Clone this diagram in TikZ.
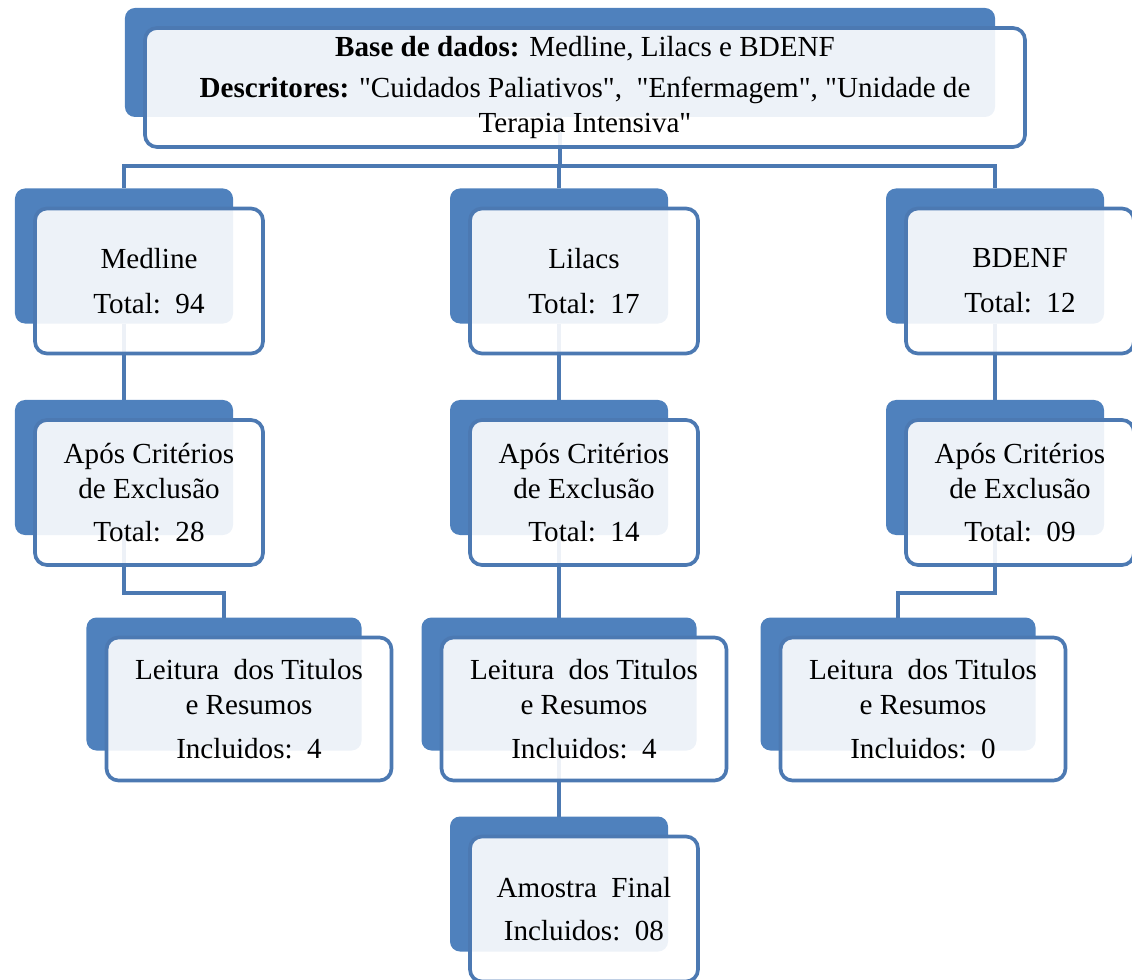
\documentclass[tikz,border=0pt]{standalone}
\usepackage{fontspec}
\setmainfont{Liberation Serif}
\usetikzlibrary{positioning,backgrounds}
\definecolor{boxblue}{HTML}{4F81BD}
\definecolor{lineblue}{HTML}{4C79B2}

\begin{document}
\begin{tikzpicture}[x=0.25mm,y=-0.25mm,
  backbox/.style={fill=boxblue,rounded corners=2.5mm,outer sep=0pt,inner sep=0pt},
  frontbox/.style={draw=lineblue,line width=2.6pt,fill=white,fill opacity=0.9,
    text opacity=1,rounded corners=3mm,outer sep=0pt,inner sep=0pt,align=center,
    font=\fontsize{20.7}{25}\selectfont},
  link/.style={draw=lineblue,line width=2.8pt},
  stdback/.style={minimum width=54.5mm,minimum height=33.75mm},
  stdfront/.style={minimum width=57mm,minimum height=36.25mm},
  wideback/.style={minimum width=68.75mm,minimum height=33.25mm},
  widefront/.style={minimum width=71.25mm,minimum height=35.75mm}
]
\useasboundingbox (0,0) rectangle (1132,980);

% top box
\node[backbox,minimum width=217.5mm,minimum height=27.25mm] (topB) at (560,62.5) {};
\node[frontbox,minimum width=220mm,minimum height=29.75mm,below right=5mm and 5mm of topB.north west] (topF)
  {\textbf{Base de dados:} Medline, Lilacs e BDENF\\[4pt]
   \textbf{Descritores:} \textquotedbl Cuidados Paliativos\textquotedbl,\ \ \textquotedbl Enfermagem\textquotedbl, \textquotedbl Unidade de\\
   Terapia Intensiva\textquotedbl};

% first row
\node[backbox,stdback] (medB1) at (124,256) {};
\node[frontbox,stdfront,below right=5mm and 5mm of medB1.north west] (medF1) {Medline\\[7pt]Total:\ \ 94};
\node[backbox,stdback] (lilB1) at (559,256) {};
\node[frontbox,stdfront,below right=5mm and 5mm of lilB1.north west] (lilF1) {Lilacs\\[7pt]Total:\ \ 17};
\node[backbox,stdback] (bdeB1) at (995,256) {};
\node[frontbox,stdfront,below right=5mm and 5mm of bdeB1.north west] (bdeF1) {BDENF\\[7pt]Total:\ \ 12};

% second row
\node[backbox,stdback] (medB2) at (124,467.5) {};
\node[frontbox,stdfront,below right=5mm and 5mm of medB2.north west] (medF2)
  {Após Critérios\\de Exclusão\\[6pt]Total:\ \ 28};
\node[backbox,stdback] (lilB2) at (559,467.5) {};
\node[frontbox,stdfront,below right=5mm and 5mm of lilB2.north west] (lilF2)
  {Após Critérios\\de Exclusão\\[6pt]Total:\ \ 14};
\node[backbox,stdback] (bdeB2) at (995,467.5) {};
\node[frontbox,stdfront,below right=5mm and 5mm of bdeB2.north west] (bdeF2)
  {Após Critérios\\de Exclusão\\[6pt]Total:\ \ 09};

% third row
\node[backbox,wideback] (medB3) at (224,684) {};
\node[frontbox,widefront,below right=5mm and 5mm of medB3.north west] (medF3)
  {Leitura\ \ dos Titulos\\e Resumos\\[6pt]Incluidos:\ \ 4};
\node[backbox,wideback] (lilB3) at (559,684) {};
\node[frontbox,widefront,below right=5mm and 5mm of lilB3.north west] (lilF3)
  {Leitura\ \ dos Titulos\\e Resumos\\[6pt]Incluidos:\ \ 4};
\node[backbox,wideback] (bdeB3) at (898,684) {};
\node[frontbox,widefront,below right=5mm and 5mm of bdeB3.north west] (bdeF3)
  {Leitura\ \ dos Titulos\\e Resumos\\[6pt]Incluidos:\ \ 0};

% final sample
\node[backbox,stdback] (finB) at (559,884) {};
\node[frontbox,stdfront,below right=5mm and 5mm of finB.north west] (finF)
  {Amostra\ \ Final\\[6pt]Incluidos:\ \ 08};

% connectors
\begin{scope}[on background layer]
\coordinate (split) at (560,166);
\draw[link] (topB.south) -- (split);
\draw[link] (split) -| (medB1.north);
\draw[link] (split) -| (lilB1.north);
\draw[link] (split) -| (bdeB1.north);
\draw[link] (medB1.south) -- (medB2.north);
\draw[link] (lilB1.south) -- (lilB2.north);
\draw[link] (bdeB1.south) -- (bdeB2.north);
\draw[link] (medB2.south) -- ++(0,58) -| (medB3.north);
\draw[link] (lilB2.south) -- (lilB3.north);
\draw[link] (bdeB2.south) -- ++(0,58) -| (bdeB3.north);
\draw[link] (lilB3.south) -- (finB.north);
\end{scope}
\end{tikzpicture}
\end{document}
